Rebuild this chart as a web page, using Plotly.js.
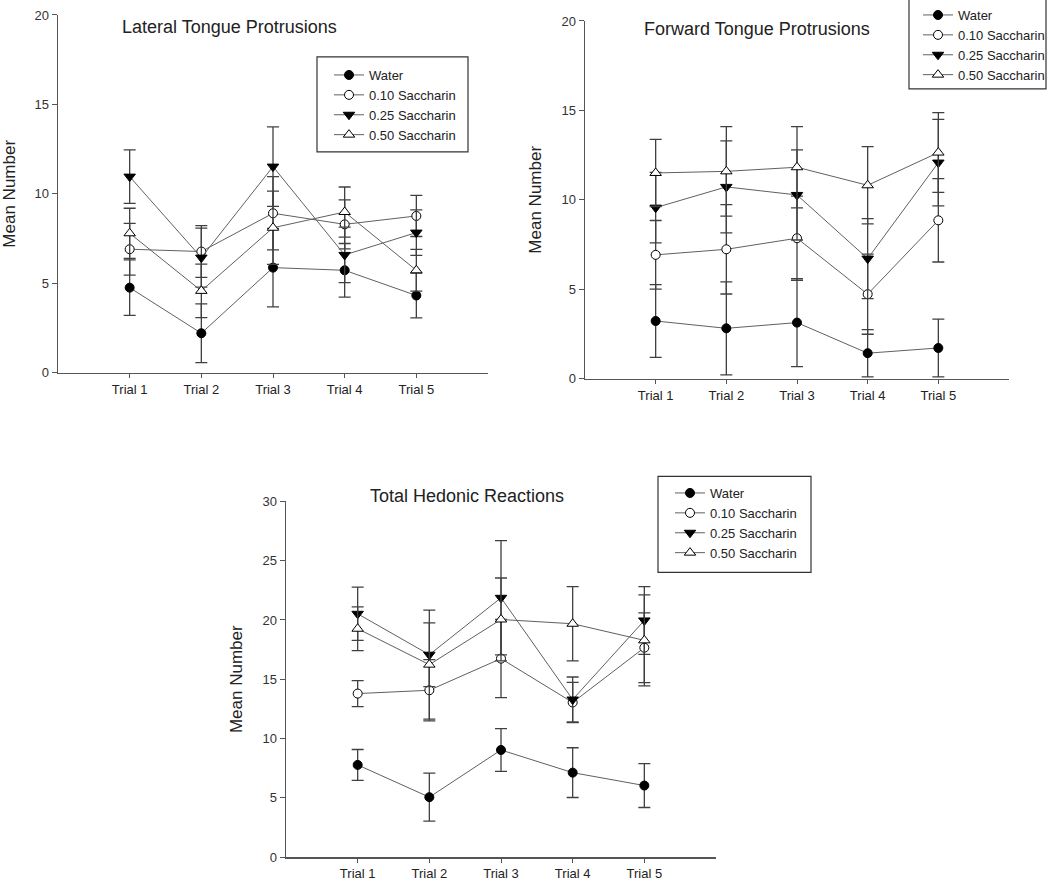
<!DOCTYPE html>
<html>
<head>
<meta charset="utf-8">
<script src="https://cdn.plot.ly/plotly-3.0.1.min.js"></script>
<style>
  html, body { margin: 0; padding: 0; background: #fff; }
  #chart { width: 1050px; height: 882px; }
</style>
</head>
<body>
<div id="chart"></div>
<script>
// trial labels and group names
const trials = ['Trial 1', 'Trial 2', 'Trial 3', 'Trial 4', 'Trial 5'];
const groups = ['Water', '0.10 Saccharin', '0.25 Saccharin', '0.50 Saccharin'];

// Lateral Tongue Protrusions (mean, sem)
const latWater = [4.75, 2.2, 5.87, 5.72, 4.31];
const latWaterErr = [1.55, 1.64, 2.2, 1.5, 1.25];
const lat10 = [6.9, 6.77, 8.91, 8.29, 8.76];
const lat10Err = [1.45, 1.45, 2.05, 1.37, 1.15];
const lat25 = [10.96, 6.43, 11.52, 6.58, 7.83];
const lat25Err = [1.5, 1.65, 2.22, 1.55, 1.27];
const lat50 = [7.79, 4.57, 8.1, 8.98, 5.72];
const lat50Err = [1.4, 1.5, 2.05, 1.4, 1.17];

// Forward Tongue Protrusions
const fwdWater = [3.22, 2.81, 3.13, 1.42, 1.71];
const fwdWaterErr = [2.03, 2.6, 2.46, 1.32, 1.62];
const fwd10 = [6.92, 7.23, 7.85, 4.72, 8.85];
const fwd10Err = [1.92, 2.5, 2.35, 2.24, 2.33];
const fwd25 = [9.56, 10.72, 10.27, 6.71, 12.08];
const fwd25Err = [1.97, 2.57, 2.52, 2.24, 2.42];
const fwd50 = [11.5, 11.59, 11.82, 10.81, 12.64];
const fwd50Err = [1.88, 2.5, 2.27, 2.16, 2.23];

// Total Hedonic Reactions
const hedWater = [7.77, 5.05, 9.03, 7.12, 6.03];
const hedWaterErr = [1.3, 2.02, 1.8, 2.1, 1.85];
const hed10 = [13.79, 14.07, 16.74, 13.04, 17.66];
const hed10Err = [1.1, 2.58, 3.3, 1.7, 2.94];
const hed25 = [20.52, 17.07, 21.87, 13.29, 19.96];
const hed25Err = [2.25, 2.69, 4.82, 1.9, 2.86];
const hed50 = [19.26, 16.23, 20.04, 19.68, 18.28];
const hed50Err = [1.85, 4.6, 3.5, 3.14, 3.84];

// filled circle, open circle, filled down triangle, open up triangle
const markers = [
  { symbol: 'circle', size: 9, color: '#000', line: { color: '#000', width: 1 } },
  { symbol: 'circle', size: 9, color: '#fff', line: { color: '#000', width: 1 } },
  { symbol: 'triangle-down', size: 10, color: '#000', line: { color: '#000', width: 1 } },
  { symbol: 'triangle-up', size: 10, color: '#fff', line: { color: '#000', width: 1 } }
];

function series(ys, errs, ax, legendId) {
  return ys.map((y, i) => ({
    type: 'scatter',
    mode: 'lines+markers',
    x: trials,
    y: y,
    name: groups[i],
    xaxis: 'x' + ax,
    yaxis: 'y' + ax,
    legend: legendId,
    line: { color: '#606060', width: 1 },
    marker: markers[i],
    error_y: { type: 'data', array: errs[i], color: '#404040', thickness: 1.3, width: 6 },
    cliponaxis: false
  }));
}

const data = [].concat(
  series([latWater, lat10, lat25, lat50], [latWaterErr, lat10Err, lat25Err, lat50Err], '', 'legend'),
  series([fwdWater, fwd10, fwd25, fwd50], [fwdWaterErr, fwd10Err, fwd25Err, fwd50Err], '2', 'legend2'),
  series([hedWater, hed10, hed25, hed50], [hedWaterErr, hed10Err, hed25Err, hed50Err], '3', 'legend3')
);

const W = 1050, H = 882;
const px = v => v / W;
const py = v => 1 - v / H;

const font = { family: 'Liberation Sans, Arial, sans-serif', color: '#222' };

function xAxis(left, right, anchor) {
  return {
    domain: [px(left), px(right)],
    anchor: anchor,
    type: 'category',
    range: [-1, 5],
    showline: true, linecolor: '#555', linewidth: 1.5,
    ticks: 'outside', ticklen: 4, tickcolor: '#555', tickwidth: 1,
    showgrid: false, zeroline: false,
    tickfont: { size: 13, color: '#222' }
  };
}
function yAxis(top, bottom, anchor, max, dtick) {
  return {
    domain: [py(bottom), py(top)],
    anchor: anchor,
    range: [0, max],
    dtick: dtick,
    showline: true, linecolor: '#555', linewidth: 1.5,
    ticks: 'outside', ticklen: 5, tickcolor: '#555', tickwidth: 1,
    showgrid: false, zeroline: false,
    tickfont: { size: 13, color: '#333' },
    title: { text: 'Mean Number', font: { size: 17, color: '#222' }, standoff: 15 }
  };
}

function legendAt(left, top) {
  return {
    x: px(left), y: py(top), xanchor: 'left', yanchor: 'top',
    bgcolor: 'rgba(0,0,0,0)', borderwidth: 0,
    font: { size: 13, color: '#222' },
    itemwidth: 30, tracegroupgap: 0
  };
}

function box(x0, y0, x1, y1) {
  return { type: 'rect', xref: 'paper', yref: 'paper', x0: px(x0), x1: px(x1), y0: py(y0), y1: py(y1),
    line: { color: '#333', width: 1.2 }, fillcolor: 'rgba(0,0,0,0)' };
}

function titleAt(text, cx, cy) {
  return { text: text, xref: 'paper', yref: 'paper', x: px(cx), y: py(cy), xanchor: 'center', yanchor: 'middle',
    showarrow: false, font: { size: 18, color: '#222' } };
}

const layout = {
  width: W, height: H,
  margin: { l: 0, r: 0, t: 0, b: 0 },
  paper_bgcolor: '#fff', plot_bgcolor: '#fff',
  font: font,
  xaxis: xAxis(58, 488, 'y'),
  yaxis: yAxis(14, 372, 'x', 20, 5),
  xaxis2: xAxis(585, 1009, 'y2'),
  yaxis2: yAxis(20, 378, 'x2', 20, 5),
  xaxis3: xAxis(286, 716, 'y3'),
  yaxis3: yAxis(501, 857, 'x3', 30, 5),
  legend: legendAt(329, 60),
  legend2: legendAt(918, -1),
  legend3: legendAt(670, 478),
  shapes: [box(317, 56, 468, 151), box(909, -2, 1046, 88), box(658, 476, 811, 572)],
  annotations: [
    titleAt('Lateral Tongue Protrusions', 229, 26),
    titleAt('Forward Tongue Protrusions', 757, 28),
    titleAt('Total Hedonic Reactions', 467, 496)
  ],
  showlegend: true
};

Plotly.newPlot('chart', data, layout, { displayModeBar: false, staticPlot: true });
</script>
</body>
</html>
